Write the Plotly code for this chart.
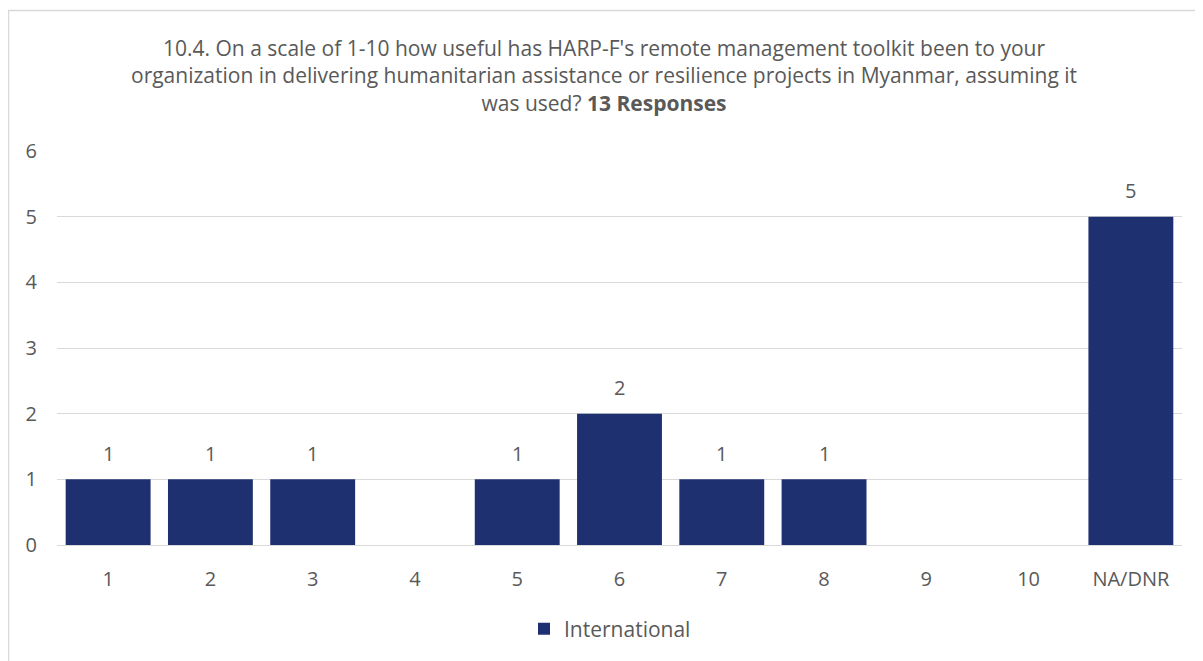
import plotly.graph_objects as go

categories = ["1", "2", "3", "4", "5", "6", "7", "8", "9", "10", "NA/DNR"]
international = [1, 1, 1, None, 1, 2, 1, 1, None, None, 5]

W, H = 1203, 661
# plot area in figure pixel coords (page adds 8px body margin)
L, R, T, B = 49, 1174, 143, 537

def px_x(p):
    return (p - L) / (R - L)

def px_y(p):
    return (B - p) / (B - T)

font_family = "Open Sans, Liberation Sans, sans-serif"
grey = "#595959"

fig = go.Figure()
fig.add_trace(go.Bar(
    x=categories, y=international, name="International",
    marker=dict(color="#1F3070", line=dict(width=0)),
))

for i, v in enumerate(international):
    if v is not None:
        fig.add_annotation(x=i, y=v, text=str(v), showarrow=False, yanchor="middle",
                           yshift=26, font=dict(size=20, color=grey, family=font_family))

fig.update_layout(
    width=W, height=H,
    margin=dict(l=L, r=W - R, t=T, b=H - B, autoexpand=False),
    paper_bgcolor="white", plot_bgcolor="white",
    bargap=0.17,
    font=dict(family=font_family, color=grey, size=20),
    showlegend=True,
    legend=dict(orientation="h", x=px_x(602), xanchor="center", y=px_y(621), yanchor="middle",
                font=dict(size=21, color=grey), itemsizing="constant"),
    xaxis=dict(type="category", showgrid=False, zeroline=False, showline=False,
               ticks="", tickfont=dict(size=20, color=grey), ticklabelstandoff=20),
    yaxis=dict(range=[0, 6], dtick=1, showgrid=True, gridcolor="#D9D9D9", gridwidth=1.3,
               zeroline=True, zerolinecolor="#D9D9D9", zerolinewidth=1.3, showline=False, ticks="",
               tickfont=dict(size=20, color=grey), ticklabelstandoff=19),
)

fig.add_annotation(
    text="10.4. On a scale of 1-10 how useful has HARP-F's remote management toolkit been to your<br>"
         "organization in delivering humanitarian assistance or resilience projects in Myanmar, assuming it<br>"
         "was used? <b>13 Responses</b>",
    xref="paper", yref="paper", x=px_x(596), y=px_y(67), xanchor="center", yanchor="middle",
    showarrow=False, align="center",
    font=dict(size=21, color=grey, family=font_family),
)

fig.add_shape(type="rect", xref="paper", yref="paper",
              x0=px_x(0.5), x1=px_x(1215), y0=px_y(2.5), y1=px_y(680),
              line=dict(color="#D9D9D9", width=1.5), fillcolor="rgba(0,0,0,0)", layer="below")

fig.write_html("out.html")
